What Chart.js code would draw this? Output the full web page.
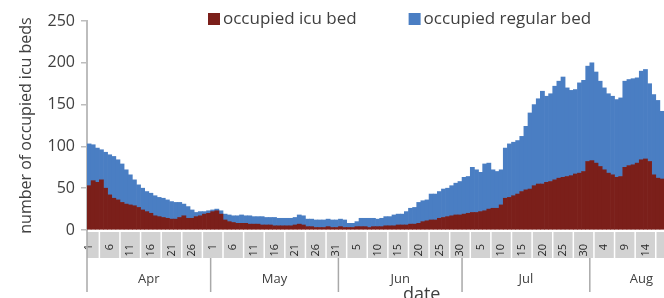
<!DOCTYPE html>
<html>
<head>
<meta charset="utf-8">
<script src="https://cdn.jsdelivr.net/npm/chart.js@4.4.1/dist/chart.umd.min.js"></script>
<style>
  html, body { margin: 0; padding: 0; background: #ffffff; }
  #wrap { width: 664px; height: 298px; position: relative; }
</style>
</head>
<body>
<div id="wrap"><canvas id="c"></canvas></div>
<script>
// ---------- data ----------
const months = ['Apr', 'May', 'Jun', 'Jul', 'Aug'];
const monthDays = [30, 31, 30, 31, 18];
const yTicks = [0, 50, 100, 150, 200, 250];
const seriesNames = ['occupied icu bed', 'occupied regular bed'];

const icuBeds = [
  // Apr
  53, 59, 57, 60, 50, 42, 38, 36, 33, 31, 30, 29, 27, 24, 22, 20, 17, 16, 15, 14, 13, 13, 15, 17, 14, 14, 16, 17, 19, 20,
  // May
  22, 23, 19, 12, 10, 9, 8, 8, 8, 7, 7, 7, 6, 6, 6, 5, 5, 5, 5, 5, 6, 7, 6, 4, 4, 3, 3, 3, 4, 3, 3,
  // Jun
  4, 3, 3, 3, 4, 4, 4, 3, 4, 4, 4, 5, 5, 5, 6, 6, 6, 7, 7, 8, 10, 11, 12, 12, 14, 15, 16, 17, 18, 18,
  // Jul
  19, 20, 21, 21, 22, 23, 25, 26, 26, 30, 38, 39, 41, 43, 46, 48, 49, 53, 55, 55, 57, 58, 60, 62, 63, 64, 65, 67, 68, 70, 82,
  // Aug
  83, 80, 76, 72, 68, 66, 63, 64, 75, 77, 78, 80, 84, 85, 82, 66, 62, 61
];

const regularBeds = [
  // Apr
  50, 43, 41, 36, 43, 48, 50, 48, 46, 41, 36, 31, 27, 26, 24, 24, 24, 23, 23, 22, 21, 20, 18, 14, 14, 10, 5, 5, 3, 3,
  // May
  2, 2, 4, 7, 8, 8, 9, 10, 9, 10, 9, 9, 10, 9, 9, 10, 9, 9, 9, 9, 9, 11, 11, 9, 9, 9, 9, 9, 9, 9, 9,
  // Jun
  9, 9, 5, 5, 6, 10, 10, 11, 10, 9, 10, 11, 11, 13, 13, 13, 16, 19, 20, 25, 25, 25, 31, 31, 32, 34, 34, 36, 38, 40,
  // Jul
  44, 44, 54, 51, 47, 56, 55, 46, 44, 42, 60, 64, 64, 64, 66, 76, 91, 97, 102, 111, 103, 105, 112, 116, 120, 106, 102, 101, 108, 109, 114,
  // Aug
  117, 109, 102, 98, 95, 94, 93, 94, 103, 103, 103, 102, 106, 107, 93, 96, 93, 81
];

// category labels (day of month) built from the month table
const dayLabels = [];
monthDays.forEach(n => { for (let d = 1; d <= n; d++) dayLabels.push(String(d)); });

// ---------- styles ----------
const FONT = "'Open Sans', 'DejaVu Sans', sans-serif";
const ICU_COLOR = '#7b1f1a';
const REG_COLOR = '#4a7ec3';
const TEXT = '#404040';
const AXIS = '#bdbdbd';
const BAND = '#d2d2d2';
// the last month's label is centred over the whole original month span (data cropped at right edge)
const monthLabelDays = [30, 31, 30, 31, 25];

const decor = {
  id: 'decor',
  beforeDraw(chart) {
    const { ctx, chartArea: a, scales: { x } } = chart;
    ctx.save();
    ctx.fillStyle = '#ffffff';
    ctx.fillRect(0, 0, chart.width, chart.height);
    const bandTop = a.bottom + 2, bandBot = a.bottom + 28;
    ctx.fillStyle = BAND;
    ctx.fillRect(a.left, bandTop, a.right - a.left, bandBot - bandTop);
    ctx.strokeStyle = '#ffffff';
    ctx.lineWidth = 1.5;
    for (let v = 2.5; v < dayLabels.length; v += 5) {
      const px = x.getPixelForValue(v);
      ctx.beginPath(); ctx.moveTo(px, bandTop); ctx.lineTo(px, bandBot); ctx.stroke();
    }
    ctx.restore();
  },
  afterDraw(chart) {
    const { ctx, chartArea: a, scales: { x } } = chart;
    ctx.save();
    const bandBot = a.bottom + 28, rowBot = a.bottom + 62;
    // month separators
    ctx.strokeStyle = '#a9a9a9';
    ctx.lineWidth = 1.5;
    let start = 0;
    months.forEach((m, k) => {
      const px = x.getPixelForValue(start - 0.5);
      ctx.beginPath();
      ctx.moveTo(px, k === 0 ? a.bottom : bandBot);
      ctx.lineTo(px, rowBot);
      ctx.stroke();
      start += monthDays[k];
    });
    // month labels
    ctx.fillStyle = TEXT;
    ctx.font = "13px " + FONT;
    ctx.textAlign = 'center';
    ctx.textBaseline = 'middle';
    start = 0;
    months.forEach((m, k) => {
      const c = start + (monthLabelDays[k] - 1) / 2;
      ctx.fillText(m, x.getPixelForValue(c), a.bottom + 49);
      start += monthDays[k];
    });
    // axis title 'date'
    ctx.font = "18px " + FONT;
    ctx.fillText('date', a.left + 0.58 * (a.right - a.left), a.bottom + 65);
    // legend
    ctx.font = "17px " + FONT;
    ctx.textAlign = 'left';
    const colors = [ICU_COLOR, REG_COLOR];
    let lx = 208;
    const ly = 19;
    chart.data.datasets.forEach((ds, i) => {
      ctx.fillStyle = colors[i];
      ctx.fillRect(lx, ly - 6, 12, 12);
      ctx.fillStyle = TEXT;
      ctx.fillText(ds.label, lx + 15, ly);
      lx += 15 + ctx.measureText(ds.label).width + 52;
    });
    ctx.restore();
  }
};

new Chart(document.getElementById('c'), {
  type: 'bar',
  data: {
    labels: dayLabels,
    datasets: [
      { label: seriesNames[0], data: icuBeds, backgroundColor: ICU_COLOR, stack: 's',
        borderWidth: 0, categoryPercentage: 1.0, barPercentage: 1.0 },
      { label: seriesNames[1], data: regularBeds, backgroundColor: REG_COLOR, stack: 's',
        borderWidth: 0, categoryPercentage: 1.0, barPercentage: 1.0 }
    ]
  },
  options: {
    responsive: true,
    maintainAspectRatio: false,
    animation: false,
    layout: { padding: { top: 21, left: 0, right: 0, bottom: 0 } },
    plugins: { legend: { display: false }, tooltip: { enabled: false } },
    scales: {
      x: {
        stacked: true,
        grid: { display: false },
        border: { display: false },
        ticks: {
          autoSkip: false, minRotation: 90, maxRotation: 90, padding: 6,
          color: '#262626', font: { family: FONT, size: 11 },
          callback: (v, i) => (i % 5 === 0 ? dayLabels[i] : '')
        },
        afterFit: s => { s.height = 68; s.paddingLeft = 0; s.paddingRight = 0; }
      },
      y: {
        stacked: true, min: 0, max: 250,
        afterBuildTicks: s => { s.ticks = yTicks.map(v => ({ value: v })); },
        ticks: { color: TEXT, font: { family: FONT, size: 16 }, padding: 6 },
        grid: { drawOnChartArea: false, color: AXIS, tickLength: 6, lineWidth: 1.5 },
        border: { color: AXIS, width: 2 },
        title: { display: true, text: 'number of occupied icu beds', color: TEXT,
                 font: { family: FONT, size: 16 }, padding: { top: 17, bottom: 0 } },
        afterFit: s => { s.width = 87; }
      }
    }
  },
  plugins: [decor]
});
</script>
</body>
</html>
